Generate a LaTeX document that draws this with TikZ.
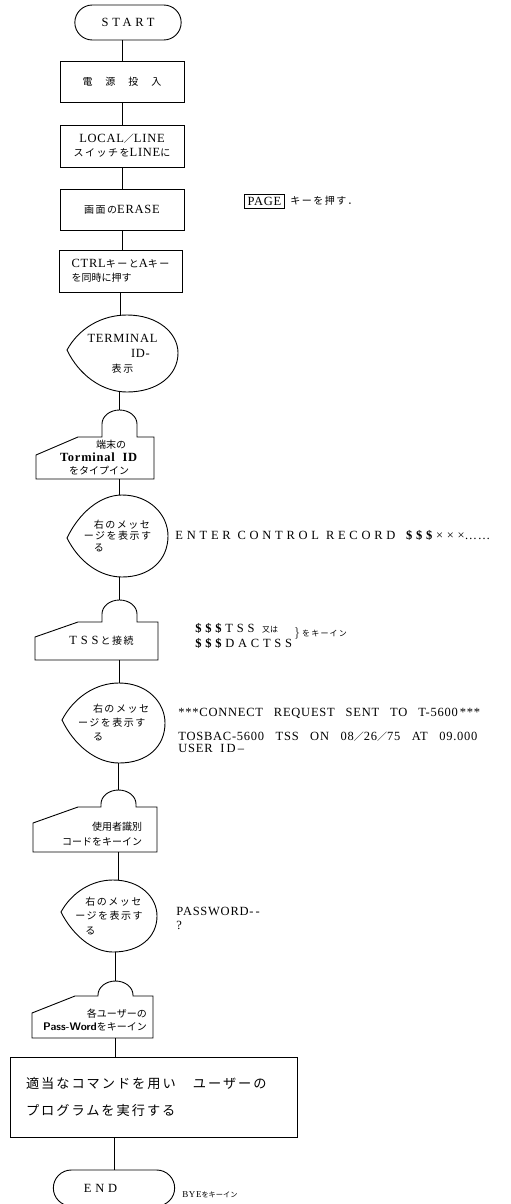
\documentclass[tikz,border=0pt]{standalone}
\usepackage{fontspec}
\setmainfont[LetterSpace=6]{Liberation Serif}
\newfontfamily\jp[Scale=0.8]{Noto Sans CJK JP}
\newfontfamily\jpw[Scale=0.8, LetterSpace=15]{Noto Sans CJK JP}
\newfontfamily\wide[LetterSpace=30]{Liberation Serif}
\usetikzlibrary{
    shapes.misc,
    calc,
    positioning
}

\begin{document}
\begin{tikzpicture}[x=1pt, y=1pt, line width=0.9pt,
    every node/.style={font=\fontsize{12.5}{14}\selectfont},
    term/.style={draw, rounded rectangle, minimum height=35pt},
    proc/.style={draw, rectangle, minimum width=124pt, minimum height=41pt, align=center, inner sep=2pt},
    dispnode/.style={rectangle, inner sep=0pt},
    innode/.style={rectangle, inner sep=0pt},
    msg/.style={anchor=west, align=left, inner sep=0pt}]
\useasboundingbox (0,0) rectangle (511,-1204);
% main column
\node[term, minimum width=113pt] (start) at (128,-22.5) {\wide START};
\node[proc] (power) at (122,-82) {\jp 電\hspace{13pt}源\hspace{13pt}投\hspace{13pt}入};
\node[proc, minimum height=42pt] (local) at (122,-146) {LOCAL{\jp ／}LINE\\{\jpw スイッチを}LINE{\jp に}};
\node[proc] (erase) at (122,-209.5) {{\jpw 画面の}ERASE};
\node[proc, minimum width=123pt, minimum height=42pt, align=left] (ctrl) at (120.5,-271) {CTRL{\jpw キーと}A{\jpw キー}\\{\jp を同時に押す}};
\node[dispnode, minimum width=111pt, minimum height=77pt, align=center, font=\fontsize{12.5}{15}\selectfont] (d1) at (122.5,-353.5) {TERMINAL\\\hspace*{36pt}ID-\\{\jp 表\,示}};
\node[innode, minimum width=110pt, minimum height=42pt, align=center, font=\fontsize{12.5}{13}\selectfont] (in1) at (99,-458) {\hspace*{24pt}{\jp 端末の}\\\textbf{Torminal\ \ ID}\\{\jp をタイプイン}};
\node[dispnode, minimum width=101pt, minimum height=82pt, align=left, font=\fontsize{12.5}{11.5}\selectfont\jpw] (d2) at (117.5,-536) {\hspace*{1em}右のメッセ\\ージを表示す\\\hspace*{1em}る};
\node[innode, minimum width=110pt, minimum height=38pt] (in2) at (101.5,-641) {{\wide TSS}\,{\jpw と接続}};
\node[dispnode, minimum width=103pt, minimum height=80pt, align=left, font=\fontsize{12.5}{14}\selectfont\jpw] (d3) at (113.5,-723) {\hspace*{1.5em}右のメッセ\\ージを表示す\\\hspace*{1.5em}る};
\node[innode, minimum width=110pt, minimum height=36pt, align=right, font=\fontsize{12.5}{15}\selectfont\jp] (in3) at (102,-834) {使用者識別\\コードをキーイン};
\node[dispnode, minimum width=96pt, minimum height=72pt, align=left, font=\fontsize{12.5}{14.5}\selectfont\jpw] (d4) at (109,-916) {\hspace*{1em}右のメッセ\\ージを表示す\\\hspace*{1em}る};
\node[innode, minimum width=110pt, minimum height=37pt, align=right, font=\fontsize{12.5}{13}\selectfont] (in4) at (95,-1019.5) {{\jp 各ユーザーの}\\{\fontsize{11}{13}\selectfont\bfseries\sffamily Pass-Word}{\jp をキーイン}};
\node[draw, minimum width=287pt, minimum height=80pt, text width=255pt, inner sep=0pt, align=left, font=\fontsize{16.5}{27}\selectfont\jpw] (prog) at (153.5,-1097) {適当なコマンドを用い　ユーザーの\\プログラムを実行する};
\node[term, minimum width=128pt, minimum height=36pt] (endn) at (114,-1188) {\wide END\hspace*{27pt}};
% display and input outlines
\draw (67,-350) .. controls (79,-328) and (102,-315) .. (127,-315) .. controls (158,-315) and (178,-333) .. (178,-353) .. controls (178,-375) and (158,-392) .. (127,-392) .. controls (102,-392) and (79,-375) .. (67,-350) -- cycle;
\draw (67,-538) .. controls (79,-513) and (100,-495) .. (122,-495) .. controls (150,-495) and (168,-515) .. (168,-536) .. controls (168,-560) and (150,-577) .. (122,-577) .. controls (100,-577) and (79,-562) .. (67,-538) -- cycle;
\draw (62,-720) .. controls (74,-697) and (96,-683) .. (119,-683) .. controls (148,-683) and (165,-703) .. (165,-723) .. controls (165,-746) and (148,-763) .. (119,-763) .. controls (96,-763) and (74,-745) .. (62,-720) -- cycle;
\draw (61,-912) .. controls (72,-892) and (92,-880) .. (113,-880) .. controls (140,-880) and (157,-897) .. (157,-916) .. controls (157,-937) and (140,-952) .. (113,-952) .. controls (92,-952) and (72,-934) .. (61,-912) -- cycle;
\draw (36,-455) -- (78,-437) -- (102,-437) -- (102,-424) arc[start angle=180, end angle=0, x radius=17.5, y radius=14] -- (137,-437) -- (154,-437) -- (154,-479) -- (36,-479) -- cycle;
\draw (35,-637) -- (78,-622) -- (102,-622) -- (102,-614) arc[start angle=180, end angle=0, x radius=17.5, y radius=14] -- (137,-622) -- (158,-622) -- (158,-660) -- (35,-660) -- cycle;
\draw (33,-823) -- (78,-807) -- (101,-807) -- (101,-804) arc[start angle=180, end angle=0, x radius=17.5, y radius=14] -- (136,-807) -- (157,-807) -- (157,-852) -- (33,-852) -- cycle;
\draw (32,-1013) -- (75,-996) -- (98,-996) -- (98,-995) arc[start angle=180, end angle=0, x radius=17.5, y radius=14] -- (133,-996) -- (153,-996) -- (153,-1038) -- (32,-1038) -- cycle;
\coordinate (b1) at (119.5,-410);
\coordinate (b2) at (119.5,-600);
\coordinate (b3) at (118.5,-790);
\coordinate (b4) at (115.5,-981);
% connectors
\draw (start.south -| power.north) -- (power.north);
\draw (power) -- (local);
\draw (local) -- (erase);
\draw (erase.south) -- (erase.south |- ctrl.north);
\draw (ctrl.south) -- (ctrl.south |- d1.north);
\draw (d1.south -| b1) -- (b1);
\draw (b1 |- in1.south) -- (b1 |- d2.north);
\draw (d2.south -| b2) -- (b2);
\draw (b2 |- in2.south) -- (b2 |- d3.north);
\draw (d3.south -| b3) -- (b3);
\draw (b3 |- in3.south) -- (b3 |- d4.north);
\draw (d4.south -| b4) -- (b4);
\draw (b4 |- in4.south) -- (b4 |- prog.north);
\draw (prog.south -| endn.north) -- (endn.north);
% notes on the right
\node[draw, inner sep=3pt, line width=0.6pt] (page) at (264.5,-201) {PAGE};
\node[right=2pt of page, font=\fontsize{12.5}{12}\selectfont\jpw] (pagekey) {キーを押す．};
\node[msg] (m1) at (175,-535) {{\wide ENTER CONTROL RECORD \textbf{\$\$\$}×××}……};
\node[msg, font=\fontsize{12.5}{15}\selectfont] (m2) at (195,-635.5) {{\wide\textbf{\$\$\$}TSS}\ \ {\jp\fontsize{10}{9}\selectfont 又は}\\{\wide\textbf{\$\$\$}DACTSS}};
\node[msg, right=1pt of m2, yshift=2pt] (m2b) {$\}$\,{\jpw\fontsize{10}{9}\selectfont をキーイン}};
\node[msg] (m3) at (178,-713) {***CONNECT\hspace{11pt}REQUEST\hspace{11pt}SENT\hspace{11pt}TO\hspace{11pt}T-5600\,***};
\node[msg, font=\fontsize{12.5}{12}\selectfont] (m4) at (178,-742) {TOSBAC-5600\hspace{11.5pt}TSS\hspace{11.5pt}ON\hspace{11.5pt}08{\jp ／}26{\jp ／}75\hspace{11.5pt}AT\hspace{11.5pt}09.000\\USER\ \ I\,D\,–};
\node[msg] (m5) at (176,-918.5) {PASSWORD-\,-\\?};
\node[msg, font=\fontsize{9}{11}\selectfont] (m6) at (182,-1195) {BYE{\jp をキーイン}};
\end{tikzpicture}
\end{document}
